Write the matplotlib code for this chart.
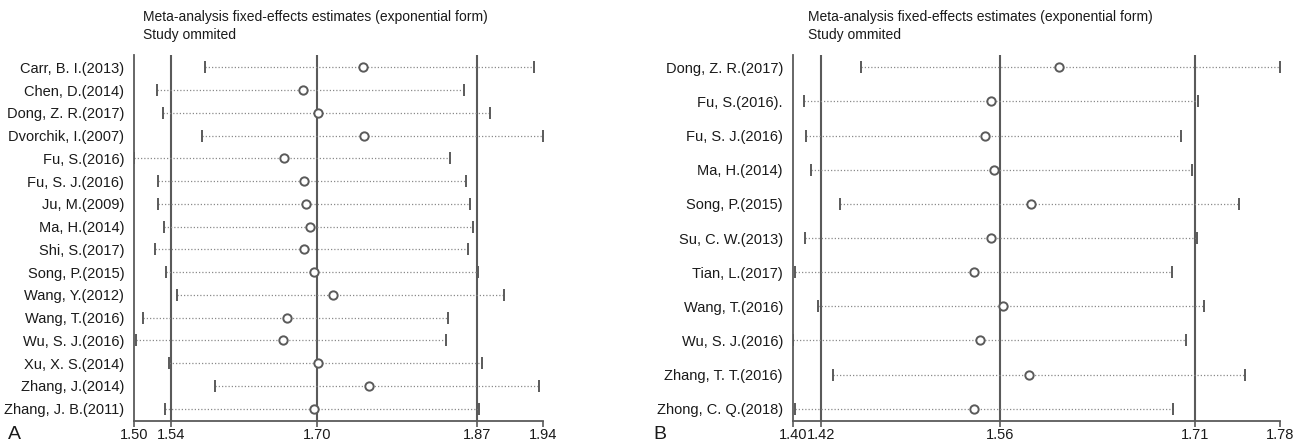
import matplotlib
matplotlib.use('Agg')
import matplotlib.pyplot as plt
import numpy as np

plt.rcParams['font.family'] = ['Liberation Sans', 'DejaVu Sans']

# Panel A: study omitted, estimate and CI
studies_a = ['Carr, B. I.(2013)', 'Chen, D.(2014)', 'Dong, Z. R.(2017)', 'Dvorchik, I.(2007)',
             'Fu, S.(2016)', 'Fu, S. J.(2016)', 'Ju, M.(2009)', 'Ma, H.(2014)', 'Shi, S.(2017)',
             'Song, P.(2015)', 'Wang, Y.(2012)', 'Wang, T.(2016)', 'Wu, S. J.(2016)',
             'Xu, X. S.(2014)', 'Zhang, J.(2014)', 'Zhang, J. B.(2011)']
est_a = [1.7463, 1.6816, 1.6978, 1.7478, 1.6615, 1.6837, 1.6855, 1.6902,
         1.6827, 1.6935, 1.7140, 1.6654, 1.6607, 1.6978, 1.7528, 1.6945]
low_a = [1.5770, 1.5245, 1.5309, 1.5734, 1.5000, 1.5255, 1.5262, 1.5327,
         1.5227, 1.5342, 1.5467, 1.5093, 1.5022, 1.5374, 1.5870, 1.5338]
up_a = [1.9315, 1.8560, 1.8840, 1.9408, 1.8409, 1.8578, 1.8621, 1.8653,
        1.8596, 1.8704, 1.8991, 1.8387, 1.8362, 1.8747, 1.9361, 1.8718]
ref_a = [1.5396, 1.6971, 1.8697]   # overall lower CI, estimate, upper CI
lim_a = [1.50, 1.9408]

# Panel B
studies_b = ['Dong, Z. R.(2017)', 'Fu, S.(2016).', 'Fu, S. J.(2016)', 'Ma, H.(2014)',
             'Song, P.(2015)', 'Su, C. W.(2013)', 'Tian, L.(2017)', 'Wang, T.(2016)',
             'Wu, S. J.(2016)', 'Zhang, T. T.(2016)', 'Zhong, C. Q.(2018)']
est_b = [1.6077, 1.5549, 1.5499, 1.5567, 1.5856, 1.5544, 1.5417, 1.5636,
         1.5457, 1.5846, 1.5417]
low_b = [1.4534, 1.4089, 1.4105, 1.4142, 1.4371, 1.4095, 1.4018, 1.4200,
         1.4000, 1.4318, 1.4018]
up_b = [1.7800, 1.7163, 1.7030, 1.7110, 1.7480, 1.7155, 1.6960, 1.7207,
        1.7067, 1.7530, 1.6963]
ref_b = [1.4223, 1.5617, 1.7140]
lim_b = [1.40, 1.78]

GREY = '#5a5a5a'
DOT = '#8a8a8a'
H = 444.0


def panel(ax, studies, est, low, up, ref, lim, margin):
    n = len(studies)
    y = np.arange(n)
    for yi, lo, hi in zip(y, low, up):
        ax.plot([lo, hi], [yi, yi], color=DOT, lw=0.9, ls=(0, (1, 1.6)), zorder=2)
    ax.plot(low, y, '|', color=GREY, ms=8, mew=1.4, zorder=3)
    ax.plot(up, y, '|', color=GREY, ms=8, mew=1.4, zorder=3)
    for r in ref:
        ax.axvline(r, color=GREY, lw=1.5, zorder=1)
    ax.plot(est, y, 'o', mfc='white', mec=GREY, mew=1.4, ms=6, zorder=4)

    ax.set_xlim(lim)
    ax.set_ylim(n - 1 + margin, -margin)
    ax.set_yticks(y)
    ax.set_yticklabels(studies, fontsize=10.5, color='#1a1a1a')
    ax.tick_params(axis='y', length=0, pad=7)
    ticks = [lim[0]] + ref + [lim[1]]
    ax.set_xticks(ticks)
    ax.set_xticklabels(['%.2f' % t for t in ticks], fontsize=10.5, color='#1a1a1a')
    ax.tick_params(axis='x', length=4, width=1.2, color=GREY, pad=1)
    for s in ['top', 'right']:
        ax.spines[s].set_visible(False)
    for s in ['left', 'bottom']:
        ax.spines[s].set_color(GREY)
        ax.spines[s].set_linewidth(1.3)


fig = plt.figure(figsize=(13.01, 4.44), dpi=100)
ax1 = fig.add_axes([0.103, 1 - 421 / H, 0.3144, (421 - 55) / H])
ax2 = fig.add_axes([0.6093, 1 - 421 / H, 0.3746, (421 - 55) / H])
panel(ax1, studies_a, est_a, low_a, up_a, ref_a, lim_a, 0.54)
panel(ax2, studies_b, est_b, low_b, up_b, ref_b, lim_b, 0.36)

title = 'Meta-analysis fixed-effects estimates (exponential form)\nStudy ommited'
fig.text(143 / 1301, 1 - 10 / H, title, fontsize=10, color='#1a1a1a',
         va='top', ha='left', linespacing=1.4)
fig.text(808 / 1301, 1 - 10 / H, title, fontsize=10, color='#1a1a1a',
         va='top', ha='left', linespacing=1.4)

fig.text(0.006, 1 - 434 / H, 'A', fontsize=14, color='#1a1a1a', va='center', ha='left')
fig.text(0.502, 1 - 434 / H, 'B', fontsize=14, color='#1a1a1a', va='center', ha='left')

fig.savefig('out.png', dpi=100)
